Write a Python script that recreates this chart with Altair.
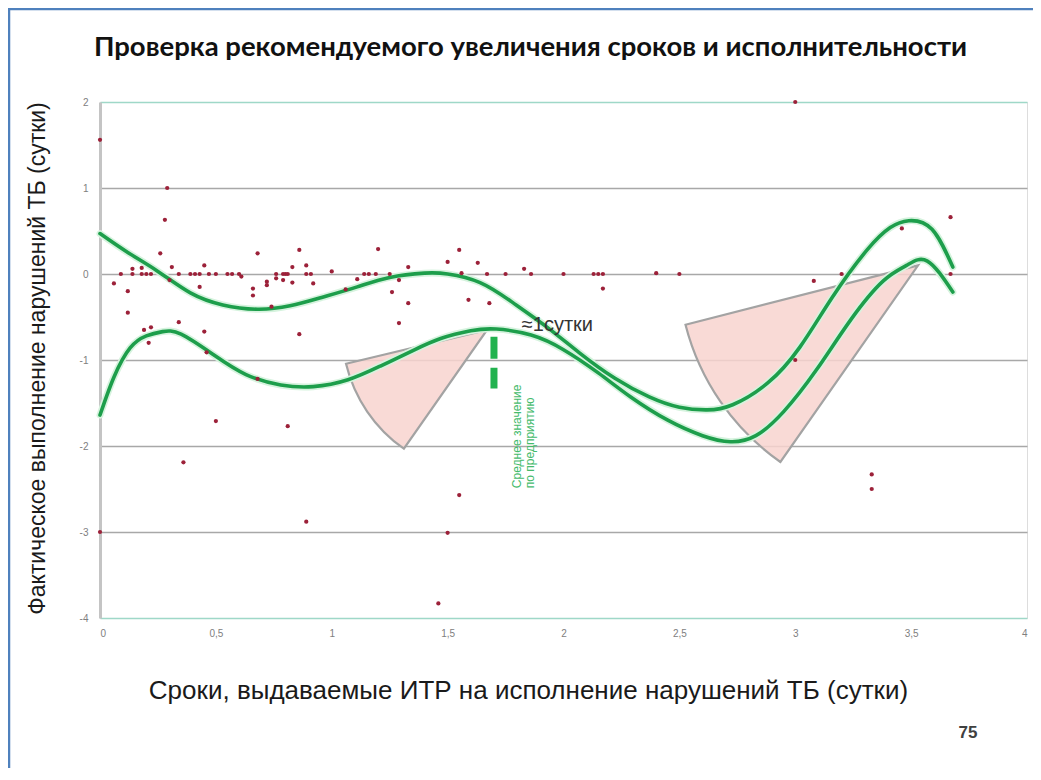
import altair as alt
import pandas as pd
import math

# ---------------- data ----------------
pt_x = [0.0, 0.0, 0.06, 0.09, 0.12, 0.12, 0.14, 0.14, 0.18, 0.18, 0.2, 0.22, 0.19, 0.22, 0.21,
        0.26, 0.28, 0.29, 0.3, 0.31, 0.34, 0.34, 0.36, 0.39, 0.41, 0.43, 0.43, 0.45, 0.45, 0.46,
        0.47, 0.5, 0.5, 0.55, 0.57, 0.6, 0.61, 0.66, 0.66, 0.68, 0.68, 0.72, 0.72, 0.74, 0.76,
        0.76, 0.79, 0.8, 0.81, 0.79, 0.81, 0.83, 0.83, 0.86, 0.86, 0.89, 0.89, 0.91, 0.89, 0.92,
        1.0, 1.06, 1.11, 1.14, 1.16, 1.19, 1.2, 1.25, 1.26, 1.29, 1.29, 1.33, 1.33, 1.46, 1.5,
        1.5, 1.55, 1.55, 1.56, 1.59, 1.63, 1.67, 1.68, 1.75, 1.83, 1.86, 2.0, 2.13, 2.15, 2.17,
        2.17, 2.4, 2.5, 3.0, 3.0, 3.08, 3.2, 3.33, 3.33, 3.46, 3.67, 3.67]
pt_y = [1.56, -3.0, -0.11, 0.0, -0.2, -0.45, 0.06, 0.0, 0.07, 0.0, 0.0, 0.0, -0.65, -0.62, -0.8,
        0.24, 0.63, 1.0, -0.07, 0.08, 0.0, -0.56, -2.19, 0.0, 0.0, 0.0, -0.15, 0.1, -0.67, -0.91,
        0.0, 0.0, -1.71, 0.0, 0.0, 0.0, -0.03, -0.17, -0.25, 0.24, -1.22, -0.09, -0.13, -0.38, -0.05,
        0.0, 0.0, 0.0, 0.0, -0.07, -1.77, 0.08, -0.1, 0.28, -0.7, 0.1, 0.0, 0.0, -2.88, -0.11,
        0.03, -0.18, -0.06, 0.0, 0.0, 0.0, 0.29, 0.0, -0.21, -0.07, -0.57, 0.08, -0.34, -3.83, 0.14,
        -3.01, 0.28, -2.57, 0.01, -0.3, 0.13, 0.0, -0.34, 0.0, 0.06, 0.0, 0.0, 0.0, 0.0, 0.0,
        -0.17, 0.01, 0.0, 2.0, -1.0, -0.08, 0.0, -2.33, -2.5, 0.53, 0.66, 0.0]

upper_x = [0.0, 0.12, 0.25, 0.39, 0.53, 0.68, 0.82, 0.96, 1.11, 1.25, 1.4, 1.5, 1.64, 1.78,
           1.93, 2.07, 2.22, 2.37, 2.5, 2.62, 2.73, 2.88, 3.02, 3.16, 3.31, 3.41, 3.49, 3.59, 3.68]
upper_y = [0.47, 0.25, 0.03, -0.22, -0.36, -0.41, -0.37, -0.27, -0.15, -0.04, 0.01, 0.0, -0.1, -0.33,
           -0.62, -0.92, -1.21, -1.43, -1.55, -1.58, -1.52, -1.27, -0.85, -0.27, 0.28, 0.54, 0.62, 0.52, 0.08]

lower_x = [0.0, 0.06, 0.13, 0.2, 0.27, 0.35, 0.49, 0.63, 0.78, 0.92, 1.07, 1.21, 1.35, 1.47, 1.6,
           1.71, 1.86, 2.0, 2.15, 2.29, 2.45, 2.6, 2.72, 2.83, 2.95, 3.09, 3.24, 3.38, 3.48, 3.57, 3.68]
lower_y = [-1.64, -1.2, -0.86, -0.72, -0.67, -0.7, -0.94, -1.17, -1.29, -1.31, -1.23, -1.07, -0.89, -0.75, -0.66,
           -0.64, -0.71, -0.88, -1.15, -1.43, -1.7, -1.88, -1.95, -1.88, -1.6, -1.12, -0.53, -0.08, 0.1, 0.15, -0.21]

wedge_apex_x = [1.67, 3.53]
wedge_apex_y = [-0.65, 0.10]
wedge_from_deg = [215.0, 215.0]
wedge_to_deg = [256.5, 255.7]

marker_x = [1.70]
marker_top = [-0.73]
marker_bottom = [-1.33]

note_text = ["≈1сутки"]
note_x = [1.82]
note_y = [-0.59]

vert_text = ["Среднее значение", "по предприятию"]
vert_x = [1.80, 1.855]
vert_y = [-2.49, -2.49]

x_ticks = [0, 0.5, 1, 1.5, 2, 2.5, 3, 3.5, 4]
y_ticks = [-4, -3, -2, -1, 0, 1, 2]

title_text = "Проверка рекомендуемого увеличения сроков и исполнительности"
x_title = "Сроки, выдаваемые ИТР на исполнение нарушений ТБ (сутки)"
y_title = "Фактическое выполнение нарушений ТБ (сутки)"
page_no = ["75"]

# ---------------- tables ----------------
pts = pd.DataFrame({"x": pt_x, "y": pt_y})
curves = pd.concat([
    pd.DataFrame({"x": upper_x, "y": upper_y, "curve": "upper"}),
    pd.DataFrame({"x": lower_x, "y": lower_y, "curve": "lower"}),
])
wedges = pd.DataFrame({
    "x": wedge_apex_x, "y": wedge_apex_y,
    "t1": [math.radians(a) for a in wedge_from_deg],
    "t2": [math.radians(a) for a in wedge_to_deg],
    "id": ["left", "right"],
})
marker = pd.DataFrame({"x": marker_x, "y": marker_top, "y2": marker_bottom})
note = pd.DataFrame({"x": note_x, "y": note_y, "t": note_text})
vert = pd.DataFrame({"x": vert_x, "y": vert_y, "t": vert_text})

X = alt.X("x:Q", scale=alt.Scale(domain=[0, 4], nice=False, zero=False),
          axis=alt.Axis(values=x_ticks, grid=False, domain=False, ticks=False, format="~g",
                        labelExpr="replace(datum.label, '.', ',')",
                        labelPadding=10, labelFontSize=10, labelColor="#808080",
                        labelFont="Liberation Sans",
                        title=x_title, titleFont="Liberation Sans", titleFontSize=26,
                        titleFontWeight="normal", titleColor="#1a1a1a",
                        titleX=428, titleY=72, titleAlign="center", titleBaseline="middle"))
Y = alt.Y("y:Q", scale=alt.Scale(domain=[-4, 2], nice=False, zero=False),
          axis=alt.Axis(values=y_ticks, grid=True,
                        gridColor={"condition": {"test": "datum.value == 2 || datum.value == -4",
                                                 "value": "#9fd8c8"}, "value": "#a8a8a8"},
                        gridWidth=1.6, ticks=False, domainColor="#c4c4c4", domainWidth=3,
                        labelExpr="replace(datum.label, '−', '-')",
                        labelPadding=12, labelFontSize=10, labelColor="#808080",
                        labelFont="Liberation Sans",
                        title=y_title, titleFont="Liberation Sans", titleFontSize=23,
                        titleFontWeight="normal", titleColor="#1a1a1a", titleAngle=270,
                        titleX=-63, titleY=256, titleAlign="center", titleBaseline="middle"))

base_points = alt.Chart(pts).mark_point(filled=True, size=18, color="#9c2139", opacity=1).encode(x=X, y=Y)

wedge_base = alt.Chart(wedges)
wedge_left = wedge_base.transform_filter("datum.id == 'left'").mark_arc(
    fill="#f8d3cf", fillOpacity=0.85, stroke="#a3a3a3", strokeWidth=2.2).encode(
    x=X, y=Y,
    theta=alt.Theta("t1:Q", scale=None, stack=False), theta2="t2:Q",
    radius=alt.value(145))
wedge_right = wedge_base.transform_filter("datum.id == 'right'").mark_arc(
    fill="#f8d3cf", fillOpacity=0.85, stroke="#a3a3a3", strokeWidth=2.2).encode(
    x=X, y=Y,
    theta=alt.Theta("t1:Q", scale=None, stack=False), theta2="t2:Q",
    radius=alt.value(240))

glow = alt.Chart(curves).mark_line(interpolate="natural", strokeWidth=7, color="#d6f3de",
                                   strokeCap="round").encode(x=X, y=Y, detail="curve:N")
line = alt.Chart(curves).mark_line(interpolate="natural", strokeWidth=3.6, color="#1d9e4b",
                                   strokeCap="round").encode(x=X, y=Y, detail="curve:N")

mark_rule = alt.Chart(marker).mark_rule(color="#22b24f", strokeWidth=7, strokeDash=[22, 9]).encode(
    x=X, y=Y, y2="y2:Q")

note_mark = alt.Chart(note).mark_text(align="left", baseline="middle", font="Liberation Sans",
                                      fontSize=20, color="#333333").encode(x=X, y=Y, text="t:N")
vert_mark = alt.Chart(vert).mark_text(align="left", baseline="middle", angle=270,
                                      font="Liberation Sans", fontSize=12,
                                      color="#45bb6c").encode(x=X, y=Y, text="t:N")

page_mark = alt.Chart(pd.DataFrame({"t": page_no})).mark_text(
    font="Liberation Sans", fontSize=17, fontWeight="bold", color="#404040",
    align="center", baseline="middle").encode(text="t:N", x=alt.value(868), y=alt.value(631))

border_left = alt.Chart(pd.DataFrame({"t": page_no})).mark_rule(color="#4f81bd", strokeWidth=2.5).encode(
    x=alt.value(-91), y=alt.value(-93), y2=alt.value(700))
border_top = alt.Chart(pd.DataFrame({"t": page_no})).mark_rule(color="#4f81bd", strokeWidth=2.5).encode(
    x=alt.value(-92), x2=alt.value(950), y=alt.value(-93))

chart = alt.layer(
    wedge_left, wedge_right, glow, line, mark_rule, base_points, note_mark, vert_mark,
    page_mark, border_left, border_top
).properties(
    width=927, height=516,
    padding={"left": 92, "top": 94, "right": 6, "bottom": 150},
    autosize=alt.AutoSizeParams(type="none"),
    title=alt.TitleParams(title_text, font="Lato", fontSize=27.5, fontWeight="bold",
                          color="#111111", anchor="middle", frame="group", dx=-33,
                          baseline="alphabetic", offset=-76),
).configure_view(stroke="#9fd8c8", strokeWidth=2).configure(background="white")

chart.save("out.html", embed_options={"renderer": "svg", "actions": False})
